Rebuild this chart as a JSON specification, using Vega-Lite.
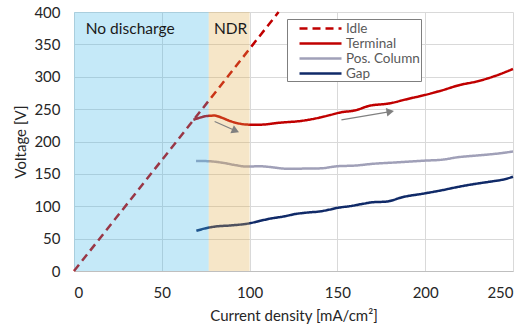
{
  "$schema": "https://vega.github.io/schema/vega-lite/v6.json",
  "width": 439,
  "height": 259,
  "autosize": "none",
  "padding": {"left": 74, "top": 12, "right": 18, "bottom": 56},
  "background": "white",
  "config": {
    "font": "Lato",
    "view": {"stroke": null},
    "axis": {
      "grid": true,
      "gridColor": "#d9d9d9",
      "gridWidth": 1,
      "ticks": false,
      "labelFontSize": 15,
      "labelColor": "#262626",
      "titleFontSize": 15,
      "titleFontWeight": "normal",
      "titleColor": "#262626",
      "labelOverlap": false
    }
  },
  "datasets": {
    "lines": [
      {"series": "Idle", "x": 0, "v": 0},
      {"series": "Idle", "x": 68, "v": 233},
      {"series": "Idle", "x": 116.5, "v": 400},
      {"series": "Terminal", "x": 68, "v": 233.5},
      {"series": "Terminal", "x": 72, "v": 237},
      {"series": "Terminal", "x": 76, "v": 239.5},
      {"series": "Terminal", "x": 80, "v": 240},
      {"series": "Terminal", "x": 84, "v": 237},
      {"series": "Terminal", "x": 88, "v": 232.5},
      {"series": "Terminal", "x": 92, "v": 229},
      {"series": "Terminal", "x": 96, "v": 226.8},
      {"series": "Terminal", "x": 100, "v": 226},
      {"series": "Terminal", "x": 106, "v": 226},
      {"series": "Terminal", "x": 117, "v": 229},
      {"series": "Terminal", "x": 130, "v": 232},
      {"series": "Terminal", "x": 140, "v": 237},
      {"series": "Terminal", "x": 146, "v": 241},
      {"series": "Terminal", "x": 152, "v": 245},
      {"series": "Terminal", "x": 160, "v": 248},
      {"series": "Terminal", "x": 168, "v": 255},
      {"series": "Terminal", "x": 180, "v": 259},
      {"series": "Terminal", "x": 189, "v": 265},
      {"series": "Terminal", "x": 200, "v": 272},
      {"series": "Terminal", "x": 209, "v": 278.5},
      {"series": "Terminal", "x": 220, "v": 287.5},
      {"series": "Terminal", "x": 229, "v": 292.5},
      {"series": "Terminal", "x": 239, "v": 300.5},
      {"series": "Terminal", "x": 250, "v": 312},
      {"series": "Pos. Column", "x": 69.5, "v": 170},
      {"series": "Pos. Column", "x": 77, "v": 169.5},
      {"series": "Pos. Column", "x": 85, "v": 167},
      {"series": "Pos. Column", "x": 92, "v": 163.5},
      {"series": "Pos. Column", "x": 98, "v": 161.3},
      {"series": "Pos. Column", "x": 106, "v": 161.8},
      {"series": "Pos. Column", "x": 112, "v": 160.5},
      {"series": "Pos. Column", "x": 121, "v": 158},
      {"series": "Pos. Column", "x": 140, "v": 158.5},
      {"series": "Pos. Column", "x": 150, "v": 161.8},
      {"series": "Pos. Column", "x": 160, "v": 162.8},
      {"series": "Pos. Column", "x": 170, "v": 165.5},
      {"series": "Pos. Column", "x": 182, "v": 167.5},
      {"series": "Pos. Column", "x": 200, "v": 170.5},
      {"series": "Pos. Column", "x": 210, "v": 172},
      {"series": "Pos. Column", "x": 218, "v": 175.5},
      {"series": "Pos. Column", "x": 230, "v": 178.5},
      {"series": "Pos. Column", "x": 240, "v": 181},
      {"series": "Pos. Column", "x": 250, "v": 184.5},
      {"series": "Gap", "x": 69.7, "v": 62},
      {"series": "Gap", "x": 75, "v": 66},
      {"series": "Gap", "x": 80, "v": 68.5},
      {"series": "Gap", "x": 90, "v": 70.5},
      {"series": "Gap", "x": 100, "v": 73.7},
      {"series": "Gap", "x": 106, "v": 77.5},
      {"series": "Gap", "x": 112, "v": 81},
      {"series": "Gap", "x": 120, "v": 84.5},
      {"series": "Gap", "x": 126, "v": 88},
      {"series": "Gap", "x": 133, "v": 90.3},
      {"series": "Gap", "x": 140, "v": 92},
      {"series": "Gap", "x": 145, "v": 94.5},
      {"series": "Gap", "x": 150, "v": 97.5},
      {"series": "Gap", "x": 158, "v": 100.5},
      {"series": "Gap", "x": 165, "v": 104},
      {"series": "Gap", "x": 170, "v": 106.2},
      {"series": "Gap", "x": 178, "v": 107.2},
      {"series": "Gap", "x": 187, "v": 114},
      {"series": "Gap", "x": 200, "v": 120},
      {"series": "Gap", "x": 210, "v": 125},
      {"series": "Gap", "x": 218, "v": 129.5},
      {"series": "Gap", "x": 225, "v": 133},
      {"series": "Gap", "x": 237, "v": 138},
      {"series": "Gap", "x": 244, "v": 141},
      {"series": "Gap", "x": 250, "v": 145.5}
    ],
    "regions": [
      {"region": "No discharge", "x0": 0, "x1": 76.7},
      {"region": "NDR", "x0": 76.7, "x1": 100}
    ],
    "labels": [
      {"label": "No discharge", "x": 6.7, "v": 366},
      {"label": "NDR", "x": 79.7, "v": 366}
    ],
    "arrows": [
      {"arrow": "down", "x": 80.1, "v": 230.9, "x2": 92, "v2": 216.5},
      {"arrow": "up", "x": 152.3, "v": 233.5, "x2": 180.1, "v2": 246.2}
    ]
  },
  "layer": [
    {
      "data": {"name": "lines"},
      "mark": {"type": "line", "strokeWidth": 2.5, "interpolate": "monotone"},
      "encoding": {
        "x": {
          "field": "x", "type": "quantitative",
          "scale": {"domain": [0, 250], "nice": false},
          "title": "Current density [mA/cm²]",
          "axis": {"values": [0, 50, 100, 150, 200, 250], "title": "Current density [mA/cm²]", "labelPadding": 14, "titlePadding": 8, "domain": true, "domainColor": "#bfbfbf"}
        },
        "y": {
          "field": "v", "type": "quantitative",
          "scale": {"domain": [0, 400], "nice": false},
          "title": "Voltage [V]",
          "axis": {"tickCount": 8, "title": "Voltage [V]", "labelPadding": 14, "titlePadding": 5, "domain": false}
        },
        "color": {
          "field": "series", "type": "nominal",
          "scale": {"domain": ["Idle", "Terminal", "Pos. Column", "Gap"], "range": ["#c00000", "#c00000", "#a0a0b8", "#102a68"]},
          "legend": {
            "title": null, "orient": "none", "legendX": 213, "legendY": 7,
            "fillColor": "white", "strokeColor": "#7f7f7f", "padding": 1,
            "symbolType": "M0.43,0H6.43", "symbolSize": 196, "symbolStrokeWidth": 2.5,
            "labelOffset": 41, "labelFontSize": 13.5, "labelColor": "#595959",
            "rowPadding": 0
          }
        },
        "strokeDash": {
          "field": "series", "type": "nominal",
          "scale": {"domain": ["Idle", "Terminal", "Pos. Column", "Gap"], "range": [[8, 5], [1, 0], [1, 0], [1, 0]]},
          "legend": {
            "title": null, "orient": "none", "legendX": 213, "legendY": 7,
            "fillColor": "white", "strokeColor": "#7f7f7f", "padding": 1,
            "symbolType": "M0.43,0H6.43", "symbolSize": 196, "symbolStrokeWidth": 2.5,
            "labelOffset": 41, "labelFontSize": 13.5, "labelColor": "#595959",
            "rowPadding": 0
          }
        }
      }
    },
    {
      "data": {"name": "regions"},
      "transform": [{"filter": "datum.region === 'No discharge'"}],
      "mark": {"type": "rect", "color": "#3eb6e8", "opacity": 0.3},
      "encoding": {
        "x": {"field": "x0", "type": "quantitative", "title": "Current density [mA/cm²]"},
        "x2": {"field": "x1"},
        "y": {"datum": 0, "type": "quantitative", "title": "Voltage [V]"},
        "y2": {"datum": 400}
      }
    },
    {
      "data": {"name": "regions"},
      "transform": [{"filter": "datum.region === 'NDR'"}],
      "mark": {"type": "rect", "color": "#e1ac48", "opacity": 0.3},
      "encoding": {
        "x": {"field": "x0", "type": "quantitative", "title": "Current density [mA/cm²]"},
        "x2": {"field": "x1"},
        "y": {"datum": 0, "type": "quantitative", "title": "Voltage [V]"},
        "y2": {"datum": 400}
      }
    },
    {
      "data": {"name": "labels"},
      "mark": {"type": "text", "align": "left", "baseline": "alphabetic", "fontSize": 15.5, "color": "#1a1a1a"},
      "encoding": {
        "x": {"field": "x", "type": "quantitative", "title": "Current density [mA/cm²]"},
        "y": {"field": "v", "type": "quantitative", "title": "Voltage [V]"},
        "text": {"field": "label"}
      }
    },
    {
      "data": {"name": "arrows"},
      "mark": {"type": "rule", "color": "#808080", "strokeWidth": 1.2},
      "encoding": {
        "x": {"field": "x", "type": "quantitative", "title": "Current density [mA/cm²]"},
        "y": {"field": "v", "type": "quantitative", "title": "Voltage [V]"},
        "x2": {"field": "x2"},
        "y2": {"field": "v2"}
      }
    },
    {
      "data": {"name": "arrows"},
      "transform": [{"filter": "datum.arrow === 'down'"}],
      "mark": {"type": "point", "shape": "triangle-right", "filled": true, "color": "#808080", "opacity": 1, "size": 75, "angle": 24},
      "encoding": {
        "x": {"field": "x2", "type": "quantitative", "title": "Current density [mA/cm²]"},
        "y": {"field": "v2", "type": "quantitative", "title": "Voltage [V]"}
      }
    },
    {
      "data": {"name": "arrows"},
      "transform": [{"filter": "datum.arrow === 'up'"}],
      "mark": {"type": "point", "shape": "triangle-right", "filled": true, "color": "#808080", "opacity": 1, "size": 75, "angle": 350},
      "encoding": {
        "x": {"field": "x2", "type": "quantitative", "title": "Current density [mA/cm²]"},
        "y": {"field": "v2", "type": "quantitative", "title": "Voltage [V]"}
      }
    }
  ]
}
